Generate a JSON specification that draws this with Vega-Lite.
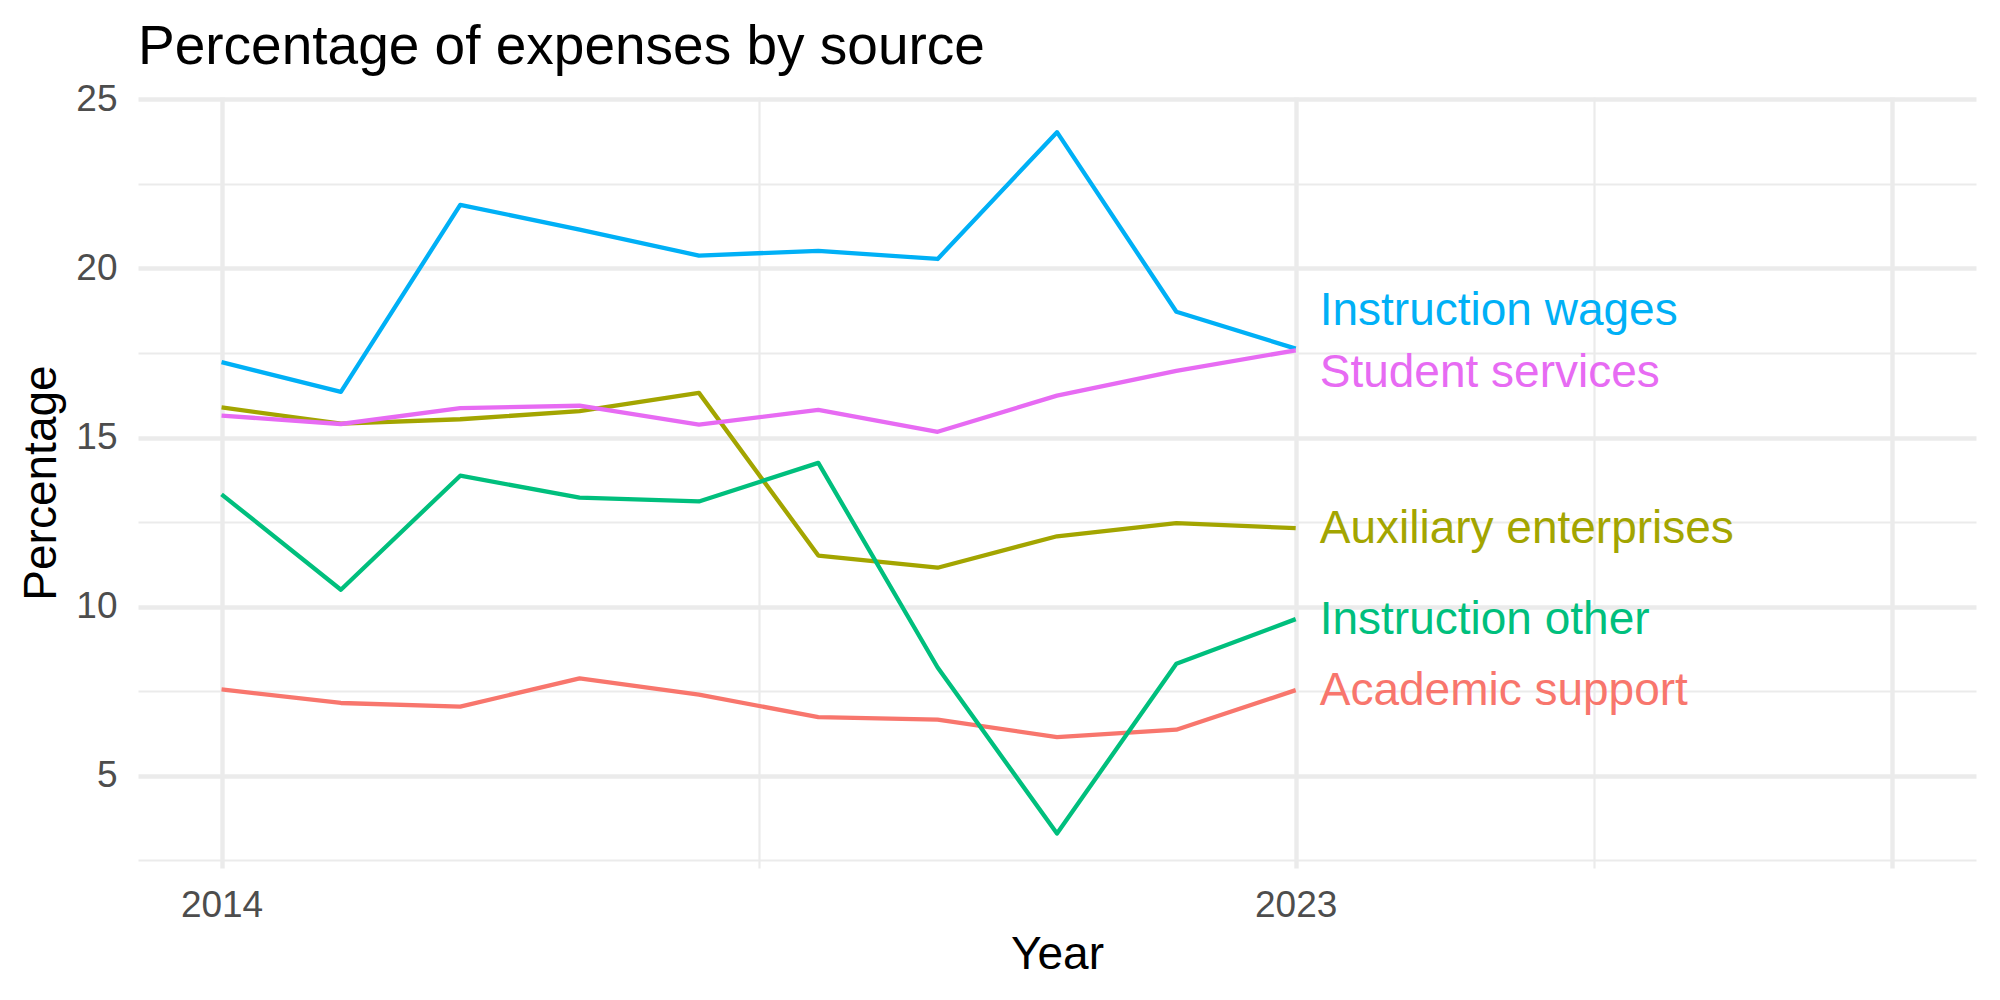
{
  "$schema": "https://vega.github.io/schema/vega-lite/v6.json",
  "width": 1838,
  "height": 771,
  "autosize": {"type": "none"},
  "padding": {"left": 138, "top": 97, "right": 24, "bottom": 132},
  "background": "white",
  "config": {
    "view": {"stroke": null},
    "font": "Liberation Sans"
  },
  "title": {
    "text": "Percentage of expenses by source",
    "anchor": "start",
    "frame": "group",
    "fontSize": 55,
    "fontWeight": "normal",
    "font": "Liberation Sans",
    "color": "#000000",
    "baseline": "alphabetic",
    "offset": -39
  },
  "datasets": {
    "series": [
      {"year": 2014, "source": "Academic support", "value": 7.55},
      {"year": 2015, "source": "Academic support", "value": 7.15},
      {"year": 2016, "source": "Academic support", "value": 7.04},
      {"year": 2017, "source": "Academic support", "value": 7.88},
      {"year": 2018, "source": "Academic support", "value": 7.40},
      {"year": 2019, "source": "Academic support", "value": 6.73},
      {"year": 2020, "source": "Academic support", "value": 6.66},
      {"year": 2021, "source": "Academic support", "value": 6.14},
      {"year": 2022, "source": "Academic support", "value": 6.36},
      {"year": 2023, "source": "Academic support", "value": 7.53},
      {"year": 2014, "source": "Auxiliary enterprises", "value": 15.89},
      {"year": 2015, "source": "Auxiliary enterprises", "value": 15.41},
      {"year": 2016, "source": "Auxiliary enterprises", "value": 15.54},
      {"year": 2017, "source": "Auxiliary enterprises", "value": 15.78},
      {"year": 2018, "source": "Auxiliary enterprises", "value": 16.32},
      {"year": 2019, "source": "Auxiliary enterprises", "value": 11.51},
      {"year": 2020, "source": "Auxiliary enterprises", "value": 11.15},
      {"year": 2021, "source": "Auxiliary enterprises", "value": 12.08},
      {"year": 2022, "source": "Auxiliary enterprises", "value": 12.47},
      {"year": 2023, "source": "Auxiliary enterprises", "value": 12.32},
      {"year": 2014, "source": "Instruction other", "value": 13.32},
      {"year": 2015, "source": "Instruction other", "value": 10.50},
      {"year": 2016, "source": "Instruction other", "value": 13.87},
      {"year": 2017, "source": "Instruction other", "value": 13.22},
      {"year": 2018, "source": "Instruction other", "value": 13.11},
      {"year": 2019, "source": "Instruction other", "value": 14.25},
      {"year": 2020, "source": "Instruction other", "value": 8.20},
      {"year": 2021, "source": "Instruction other", "value": 3.29},
      {"year": 2022, "source": "Instruction other", "value": 8.31},
      {"year": 2023, "source": "Instruction other", "value": 9.63},
      {"year": 2014, "source": "Instruction wages", "value": 17.23},
      {"year": 2015, "source": "Instruction wages", "value": 16.35},
      {"year": 2016, "source": "Instruction wages", "value": 21.88},
      {"year": 2017, "source": "Instruction wages", "value": 21.15},
      {"year": 2018, "source": "Instruction wages", "value": 20.38},
      {"year": 2019, "source": "Instruction wages", "value": 20.52},
      {"year": 2020, "source": "Instruction wages", "value": 20.28},
      {"year": 2021, "source": "Instruction wages", "value": 24.03},
      {"year": 2022, "source": "Instruction wages", "value": 18.72},
      {"year": 2023, "source": "Instruction wages", "value": 17.63},
      {"year": 2014, "source": "Student services", "value": 15.65},
      {"year": 2015, "source": "Student services", "value": 15.40},
      {"year": 2016, "source": "Student services", "value": 15.87},
      {"year": 2017, "source": "Student services", "value": 15.94},
      {"year": 2018, "source": "Student services", "value": 15.38},
      {"year": 2019, "source": "Student services", "value": 15.82},
      {"year": 2020, "source": "Student services", "value": 15.17},
      {"year": 2021, "source": "Student services", "value": 16.24},
      {"year": 2022, "source": "Student services", "value": 16.97},
      {"year": 2023, "source": "Student services", "value": 17.58}
    ],
    "labels": [
      {"year": 2023, "source": "Academic support", "label_y": 7.49},
      {"year": 2023, "source": "Auxiliary enterprises", "label_y": 12.29},
      {"year": 2023, "source": "Instruction other", "label_y": 9.59},
      {"year": 2023, "source": "Instruction wages", "label_y": 18.73},
      {"year": 2023, "source": "Student services", "label_y": 16.9}
    ]
  },
  "layer": [
    {
      "data": {"name": "series"},
      "mark": {"type": "line", "strokeWidth": 4.3, "strokeJoin": "round", "strokeCap": "butt"},
      "encoding": {
        "x": {
          "field": "year",
          "type": "quantitative",
          "scale": {"domain": [2013.3, 2028.7], "nice": false, "zero": false},
          "axis": {
            "values": [2014, 2018.5, 2023, 2025.5, 2028],
            "labelExpr": "datum.value == 2014 || datum.value == 2023 ? format(datum.value, 'd') : ''",
            "domain": false,
            "ticks": false,
            "tickSize": 0,
            "labelFontSize": 37,
            "labelColor": "#4D4D4D",
            "labelFont": "Liberation Sans",
            "labelBaseline": "alphabetic",
            "labelPadding": 48,
            "labelFlush": false,
            "labelOverlap": false,
            "grid": true,
            "gridColor": "#EBEBEB",
            "gridWidth": {"condition": {"test": "datum.value == 2018.5 || datum.value == 2025.5", "value": 2.2}, "value": 4.4},
            "title": "Year",
            "titleFontSize": 46,
            "titleFontWeight": "normal",
            "titleFont": "Liberation Sans",
            "titleColor": "#000000",
            "titleBaseline": "alphabetic",
            "titleY": 100,
            "titleX": 919
          }
        },
        "y": {
          "field": "value",
          "type": "quantitative",
          "scale": {"domain": [2.27, 25.07], "nice": false, "zero": false},
          "axis": {
            "values": [2.5, 5, 7.5, 10, 12.5, 15, 17.5, 20, 22.5, 25],
            "labelExpr": "datum.value % 5 == 0 ? format(datum.value, 'd') : ''",
            "domain": false,
            "ticks": false,
            "tickSize": 0,
            "labelFontSize": 37,
            "labelColor": "#4D4D4D",
            "labelFont": "Liberation Sans",
            "labelBaseline": "middle",
            "labelPadding": 21,
            "labelFlush": false,
            "labelOverlap": false,
            "grid": true,
            "gridColor": "#EBEBEB",
            "gridWidth": {"condition": {"test": "datum.value % 5 != 0", "value": 2.2}, "value": 4.4},
            "title": "Percentage",
            "titleFontSize": 46,
            "titleFontWeight": "normal",
            "titleFont": "Liberation Sans",
            "titleColor": "#000000",
            "titleAngle": -90,
            "titleBaseline": "alphabetic",
            "titleAlign": "center",
            "titleX": -83,
            "titleY": 385.5
          }
        },
        "color": {
          "field": "source",
          "type": "nominal",
          "scale": {
            "domain": ["Academic support", "Auxiliary enterprises", "Instruction other", "Instruction wages", "Student services"],
            "range": ["#F8766D", "#A3A500", "#00BF7D", "#00B0F6", "#E76BF3"]
          },
          "legend": null
        },
        "detail": {"field": "source"}
      }
    },
    {
      "data": {"name": "labels"},
      "mark": {"type": "text", "align": "left", "baseline": "middle", "dx": 24, "fontSize": 46, "font": "Liberation Sans"},
      "encoding": {
        "x": {"field": "year", "type": "quantitative"},
        "y": {"field": "label_y", "type": "quantitative"},
        "text": {"field": "source"},
        "color": {"field": "source", "type": "nominal", "legend": null}
      }
    }
  ]
}
